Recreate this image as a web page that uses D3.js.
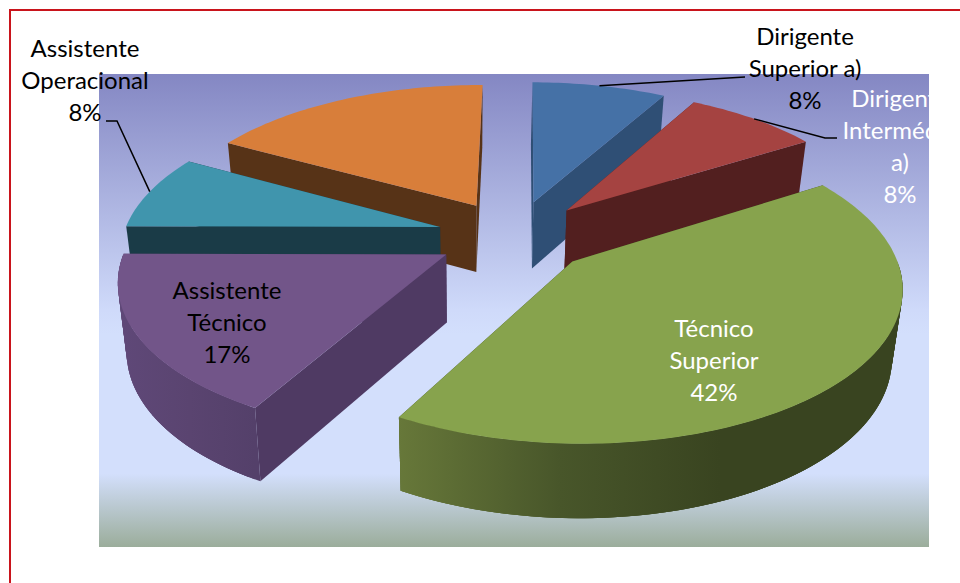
<!DOCTYPE html>
<html>
<head>
<meta charset="utf-8">
<script src="https://cdn.jsdelivr.net/npm/d3@7/dist/d3.min.js"></script>
<style>
  html, body { margin: 0; padding: 0; background: #fff; }
  svg { display: block; }
  text { font-family: Lato, "Open Sans", sans-serif; font-size: 24px; text-anchor: middle; }
</style>
</head>
<body>
<svg id="chart" width="960" height="583"></svg>
<script>
// Staff distribution by career group, exploded 3D pie
const categories = ["Dirigente Superior a)", "Dirigente Intermédio a)", "Técnico Superior", "Assistente Técnico", "Assistente Operacional", "Sem rótulo"];
const shares = [8, 8, 42, 17, 8, 17];
const labelLines = [
  ["Dirigente", "Superior a)", "8%"],
  ["Dirigente", "Intermédio", "a)", "8%"],
  ["Técnico", "Superior", "42%"],
  ["Assistente", "Técnico", "17%"],
  ["Assistente", "Operacional", "8%"],
  []
];
const labelColors = ["#000", "#fff", "#fff", "#000", "#000", "#000"];
const labelAnchors = [[805, 45], [900, 107], [714, 337], [227, 299], [85, 57], null];
const leaderElbows = [[[745, 77]], [[825, 138], [837, 138]], null, null, [[117, 121], [106, 121]], null];
const topColors = ["#4571a6", "#a54341", "#87a34d", "#725589", "#4095ad", "#d87e3a"];
const faceColors = ["#2f4f75", "#521f1f", "#39441f", "#4f3a63", "#1a3b47", "#573317"];
const rimRamps = [null, null,
  [[393, "#68793a"], [560, "#48562a"], [720, "#394420"]],
  [[120, "#5f4878"], [190, "#5a4470"], [255, "#54406a"]],
  null, null];

const svg = d3.select("#chart");
const defs = svg.append("defs");

// Plot-area backdrop
const panel = { x: 99, y: 74, w: 830, h: 473 };
const backdrop = defs.append("linearGradient").attr("id", "backdrop")
  .attr("x1", 0).attr("y1", 0).attr("x2", 0).attr("y2", 1);
[[0, "#8487c3"], [0.5, "#cfdafa"], [0.55, "#d3dffc"], [0.845, "#d3dffc"], [1, "#9bad9b"]]
  .forEach(([o, c]) => backdrop.append("stop").attr("offset", o).attr("stop-color", c));

// Rim shading runs left to right across the page
rimRamps.forEach((ramp, i) => {
  if (!ramp) return;
  const x0 = ramp[0][0], x1 = ramp[ramp.length - 1][0];
  const grad = defs.append("linearGradient").attr("id", "rim" + i)
    .attr("gradientUnits", "userSpaceOnUse")
    .attr("x1", x0).attr("y1", 0).attr("x2", x1).attr("y2", 0);
  ramp.forEach(([x, c]) => grad.append("stop").attr("offset", (x - x0) / (x1 - x0)).attr("stop-color", c));
});

// Perspective of the pie plane: p bends depth, the rest set scale and centre
const view = { cx: 514.5, cy: 236, A: 317, B: 147, p: 0.148, explode: 0.245, vanishX: 470, shrink: 0.975, drop: 66, dropRef: 200, dropRate: 0.035 };
const firstAngle = 0.005;

function project(X, Y, bottom) {
  const w = 1 - view.p * Y;
  let sx = view.cx + view.A * X / w;
  let sy = view.cy + view.B * Y / w;
  if (bottom) {
    sx = view.vanishX + (sx - view.vanishX) * view.shrink;
    sy = sy + view.drop + view.dropRate * (sy - view.dropRef);
  }
  return [sx, sy];
}

function slicePoint(d, angle, r, bottom) {
  const mid = (d.startAngle + d.endAngle) / 2;
  const X = view.explode * Math.sin(mid) + r * Math.sin(angle);
  const Y = -view.explode * Math.cos(mid) - r * Math.cos(angle);
  return project(X, Y, bottom);
}

function arcPoints(d, from, to, bottom) {
  const n = Math.max(2, Math.ceil((to - from) / 0.02));
  return d3.range(n + 1).map(i => slicePoint(d, from + (to - from) * i / n, 1, bottom));
}

const closed = d3.line().curve(d3.curveLinearClosed);
const pieData = d3.pie().sort(null).value(v => v)
  .startAngle(firstAngle).endAngle(firstAngle + 2 * Math.PI)(shares);
// Back-to-front so nearer slices overlap the farther ones
const paintOrder = [5, 0, 1, 4, 3, 2];

svg.append("rect")
  .attr("x", panel.x).attr("y", panel.y).attr("width", panel.w).attr("height", panel.h)
  .attr("fill", "url(#backdrop)");

const slices = svg.append("g").selectAll("g")
  .data(paintOrder.map(i => ({ ...pieData[i], idx: i })))
  .join("g");

slices.each(function (d) {
  const g = d3.select(this);

  // Radial cut faces, the lower one on screen painted last
  const face = a => [
    slicePoint(d, a, 0, false), slicePoint(d, a, 1, false),
    slicePoint(d, a, 1, true), slicePoint(d, a, 0, true)
  ];
  [face(d.startAngle), face(d.endAngle)]
    .sort((a, b) => d3.mean(a, p => p[1]) - d3.mean(b, p => p[1]))
    .forEach(pts => g.append("path").attr("d", closed(pts)).attr("fill", faceColors[d.idx]));

  // Rim, only where it faces the viewer; overlapping quads keep the silhouette
  // true without leaving seams between steps
  const from = Math.max(d.startAngle, Math.PI / 2);
  const to = Math.min(d.endAngle, 3 * Math.PI / 2);
  if (from < to) {
    const upper = arcPoints(d, from, to, false);
    const lower = arcPoints(d, from, to, true);
    const fill = rimRamps[d.idx] ? `url(#rim${d.idx})` : faceColors[d.idx];
    d3.range(upper.length - 1).forEach(i => {
      const j = Math.min(i + 3, upper.length - 1);
      g.append("path")
        .attr("d", closed([upper[i], upper[j], lower[j], lower[i]]))
        .attr("fill", fill);
    });
  }

  // Top surface
  const topPts = [slicePoint(d, 0, 0, false)].concat(arcPoints(d, d.startAngle, d.endAngle, false));
  g.append("path").attr("d", closed(topPts)).attr("fill", topColors[d.idx]);
});

// Leader lines run from the middle of a slice's rim to its label
pieData.forEach((d, i) => {
  if (!leaderElbows[i]) return;
  const start = slicePoint(d, (d.startAngle + d.endAngle) / 2, 1, false);
  svg.append("path")
    .attr("d", d3.line()([start, ...leaderElbows[i]]))
    .attr("fill", "none").attr("stroke", "#000").attr("stroke-width", 1.5);
});

// Labels
const lineGap = 32;
categories.forEach((name, i) => {
  if (!labelAnchors[i]) return;
  const [x, y] = labelAnchors[i];
  svg.append("g").attr("class", "label").selectAll("text")
    .data(labelLines[i])
    .join("text")
    .attr("x", x)
    .attr("y", (_, k) => y + k * lineGap)
    .attr("fill", labelColors[i])
    .text(t => t);
});

// Red frame: top and left rules bleed off the page on the right and bottom
svg.append("path")
  .attr("d", d3.line()([[10, 583], [10, 10], [960, 10]]))
  .attr("fill", "none").attr("stroke", "#c9141c").attr("stroke-width", 2);
</script>
</body>
</html>
